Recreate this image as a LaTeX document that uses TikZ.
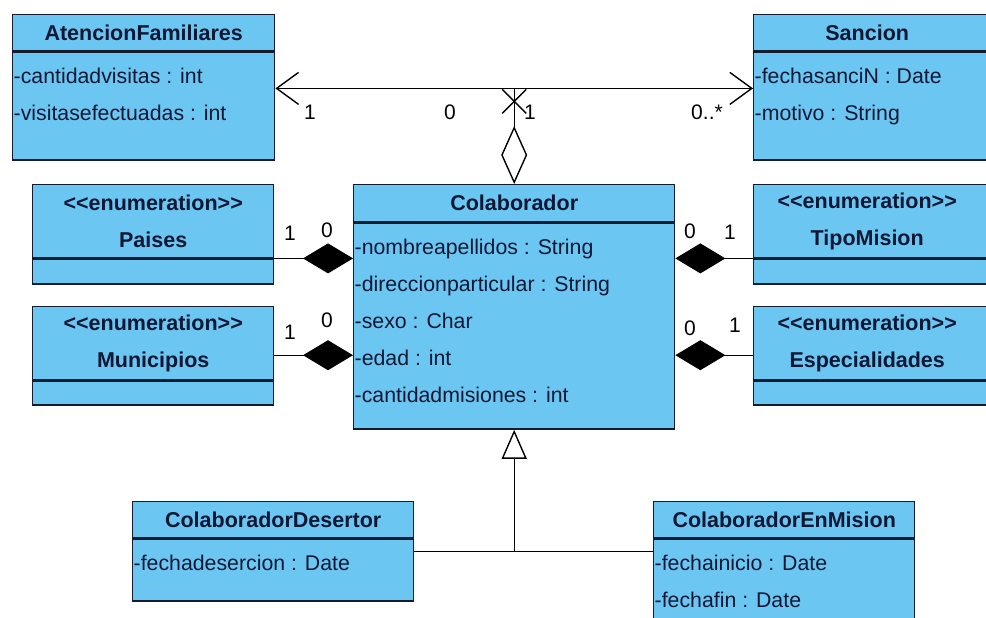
\documentclass[tikz,border=0pt]{standalone}
\usepackage{fontspec}
\setmainfont{Liberation Sans}
\usetikzlibrary{arrows.meta, calc}
\definecolor{umlblue}{RGB}{108,198,242}
\definecolor{umlline}{RGB}{20,28,48}
\definecolor{umltext}{RGB}{14,24,52}
\newcommand{\enumst}{<\kern0pt<enumeration>\kern0pt>}

\begin{document}
\begin{tikzpicture}[x=1pt,y=-1pt,
  headbox/.style={draw=umlline,fill=umlblue,line width=1.4pt,anchor=north west,
                  font=\bfseries\fontsize{21.5}{37}\selectfont,text=umltext,
                  align=center,inner sep=0pt},
  bodybox/.style={draw=umlline,fill=umlblue,line width=1.4pt,anchor=north west,
                  inner sep=0pt},
  attr/.style={anchor=north west,align=left,font=\fontsize{21.3}{37}\selectfont,
               text=umltext,inner xsep=1.5pt,inner ysep=16pt},
  mult/.style={font=\fontsize{21}{25}\selectfont,inner sep=0pt},
  nav/.style={-{Straight Barb[length=22pt,width=32pt]},line width=1.4pt},
  agg/.style={{Diamond[open,length=58pt,width=26pt]}-,line width=1.4pt},
  comp/.style={{Diamond[length=50pt,width=30pt]}-,line width=1.4pt},
  gen/.style={-{Triangle[open,length=29pt,width=25pt]},line width=1.4pt}
]
\clip (0,0) rectangle (986,618);

% clases
\node[headbox,minimum width=262,minimum height=36] (atenH) at (12,14) {AtencionFamiliares};
\node[bodybox,minimum width=262,minimum height=108] (atenB) at (atenH.south west) {};
\node[attr] (atenA) at (atenB.north west) {-cantidadvisitas : int\\-visitasefectuadas : int};

\node[headbox,minimum width=245,minimum height=36] (sancH) at (753,14) {\hspace*{-18pt}Sancion};
\node[bodybox,minimum width=245,minimum height=108] (sancB) at (sancH.south west) {};
\node[attr] (sancA) at (sancB.north west) {-fechasanciN : Date\\-motivo : String};

\node[headbox,minimum width=321,minimum height=37] (colabH) at (353,184) {Colaborador};
\node[bodybox,minimum width=321,minimum height=206] (colabB) at (colabH.south west) {};
\node[attr] (colabA) at (colabB.north west)
  {-nombreapellidos : String\\-direccionparticular : String\\-sexo : Char\\-edad : int\\-cantidadmisiones : int};

% enumeraciones
\node[headbox,minimum width=241,minimum height=73] (paisH) at (32,184) {\enumst\\Paises};
\node[bodybox,minimum width=241,minimum height=25] (paisB) at (paisH.south west) {};
\node[headbox,minimum width=241,minimum height=73] (muniH) at (32,306) {\enumst\\Municipios};
\node[bodybox,minimum width=241,minimum height=24] (muniB) at (muniH.south west) {};
\node[headbox,minimum width=245,minimum height=73] (tipoH) at (753,184) {\hspace*{-18pt}\enumst\\\hspace*{-18pt}TipoMision};
\node[bodybox,minimum width=245,minimum height=25] (tipoB) at (tipoH.south west) {};
\node[headbox,minimum width=245,minimum height=73] (espeH) at (753,306) {\hspace*{-18pt}\enumst\\\hspace*{-18pt}Especialidades};
\node[bodybox,minimum width=245,minimum height=24] (espeB) at (espeH.south west) {};

% subclases
\node[headbox,minimum width=281,minimum height=36] (desH) at (132,501) {ColaboradorDesertor};
\node[bodybox,minimum width=281,minimum height=62] (desB) at (desH.south west) {};
\node[attr] (desA) at (desB.north west) {-fechadesercion : Date};

\node[headbox,minimum width=261,minimum height=36] (misH) at (653,501) {ColaboradorEnMision};
\node[bodybox,minimum width=261,minimum height=100] (misB) at (misH.south west) {};
\node[attr] (misA) at (misB.north west) {-fechainicio : Date\\-fechafin : Date};

% asociaciones de arriba
\coordinate (jn) at ($(colabH.north |- atenH.south)+(0,37)$);
\coordinate (xm) at ($(jn)+(0,13)$);
\draw[nav] (jn) -- (jn -| atenB.east);
\draw[nav] (jn) -- (jn -| sancB.west);
\draw[agg] (colabH.north) -- (jn);
\draw[line width=1.4pt] ($(xm)+(-12,-12)$) -- ($(xm)+(12,12)$);
\draw[line width=1.4pt] ($(xm)+(12,-12)$) -- ($(xm)+(-12,12)$);
\node[mult] (m1) at (310,112) {1};
\node[mult] (m2) at (450,112) {0};
\node[mult] (m3) at (530,112) {1};
\node[mult] (m4) at (707,112) {0..*};

% composiciones
\draw[comp] (paisH.south east -| colabB.west) -- (paisH.south east);
\draw[comp] ([yshift=-12pt]muniH.east -| colabB.west) -- ([yshift=-12pt]muniH.east);
\draw[comp] (tipoH.south west -| colabB.east) -- (tipoH.south west);
\draw[comp] ([yshift=-12pt]espeH.west -| colabB.east) -- ([yshift=-12pt]espeH.west);
\node[mult] (p1) at (290,233) {1};
\node[mult] (p0) at (327,230) {0};
\node[mult] (u1) at (290,332) {1};
\node[mult] (u0) at (327,320) {0};
\node[mult] (t0) at (690,231) {0};
\node[mult] (t1) at (730,232) {1};
\node[mult] (e0) at (690,328) {0};
\node[mult] (e1) at (735,325) {1};

% herencia
\coordinate (jg) at (colabB.south |- desH.south east);
\coordinate (jg) at ($(jg)+(0,13)$);
\draw[line width=1.4pt] (desB.east |- jg) -- (jg -| misH.west);
\draw[gen] (jg) -- (colabB.south);
\end{tikzpicture}
\end{document}
